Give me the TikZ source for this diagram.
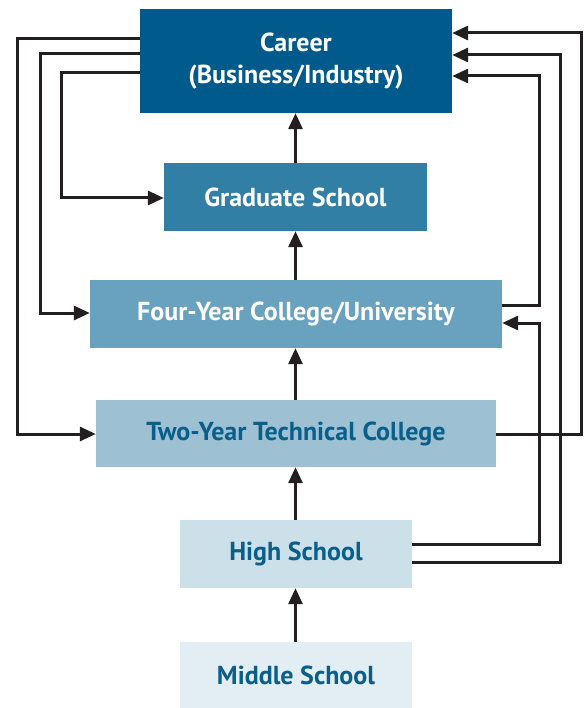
\documentclass[tikz,border=0pt]{standalone}
\usepackage{fontspec}
\setmainfont{PT Sans}
\usetikzlibrary{arrows.meta}
\definecolor{cA}{RGB}{0,91,140}
\definecolor{cB}{RGB}{50,127,165}
\definecolor{cC}{RGB}{105,162,190}
\definecolor{cD}{RGB}{157,192,211}
\definecolor{cE}{RGB}{204,224,233}
\definecolor{cF}{RGB}{227,238,244}
\definecolor{txt}{RGB}{10,94,138}
\definecolor{ln}{RGB}{35,31,32}
\tikzset{
  box/.style={inner sep=0pt, align=center, font=\bfseries\fontsize{26}{32}\selectfont},
  arr/.style={draw=ln, line width=3pt, -{Triangle[length=16pt,width=14pt]}},
  conn/.style={draw=ln, line width=3pt}
}
\begin{document}
\begin{tikzpicture}[x=1pt,y=-1pt]
\useasboundingbox (0,0) rectangle (583,708);
\node[box, fill=cA, text=white, minimum width=312pt, minimum height=104pt] (career) at (296,61) {Career\\(Business/Industry)};
\node[box, fill=cB, text=white, minimum width=263pt, minimum height=68pt] (grad) at (295.5,197) {Graduate School};
\node[box, fill=cC, text=white, minimum width=412pt, minimum height=68pt] (four) at (296,314) {Four-Year College/University};
\node[box, fill=cD, text=txt, minimum width=400pt, minimum height=67pt] (two) at (296,433.5) {Two-Year Technical College};
\node[box, fill=cE, text=txt, minimum width=232pt, minimum height=68pt] (high) at (296,554) {High School};
\node[box, fill=cF, text=txt, minimum width=232pt, minimum height=66pt] (mid) at (296,675) {Middle School};
% vertical arrows
\draw[arr] (grad.north -| 295.5,0) -- (career.south -| 295.5,0);
\draw[arr] (four.north -| 295.5,0) -- (grad.south -| 295.5,0);
\draw[arr] (two.north -| 295.5,0) -- (four.south -| 295.5,0);
\draw[arr] (high.north -| 295.5,0) -- (two.south -| 295.5,0);
\draw[arr] (mid.north -| 295.5,0) -- (high.south -| 295.5,0);
% left side
\draw[arr] (career.west |- 0,39) -| (17,434) -- (two.west |- 0,434);
\draw[arr] (career.west |- 0,54) -| (40,313) -- (four.west |- 0,313);
\draw[arr] (career.west |- 0,73) -| (61,198) -- (grad.west |- 0,198);
% right side
\draw[arr] (two.east |- 0,434) -| (581,33) -- (career.east |- 0,33);
\draw[arr] (high.east |- 0,562) -| (560,55) -- (career.east |- 0,55);
\draw[arr] (four.east |- 0,305) -| (539,76) -- (career.east |- 0,76);
\draw[arr] (high.east |- 0,544) -| (539,323) -- (four.east |- 0,323);
\end{tikzpicture}
\end{document}
